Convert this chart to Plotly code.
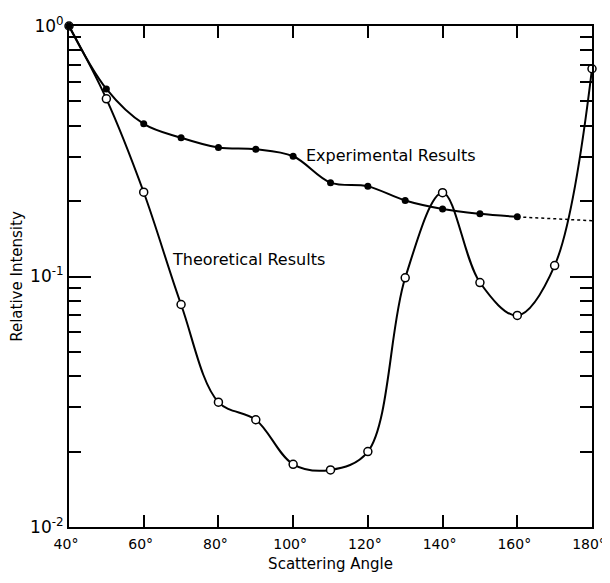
import plotly.graph_objects as go
import math

# Data
angles_exp = [40, 50, 60, 70, 80, 90, 100, 110, 120, 130, 140, 150, 160]
exp_values = [1.0, 0.561, 0.407, 0.358, 0.327, 0.322, 0.302, 0.237, 0.229, 0.201, 0.186, 0.178, 0.173]
exp_extrap_angles = [160, 180]
exp_extrap_values = [0.173, 0.167]

angles_theo = [40, 50, 60, 70, 80, 90, 100, 110, 120, 130, 140, 150, 160, 170, 180]
theo_values = [1.0, 0.512, 0.217, 0.0773, 0.0315, 0.0268, 0.0178, 0.0169, 0.0200,
               0.0988, 0.216, 0.0946, 0.0699, 0.1106, 0.675]

x_tickvals = [40, 60, 80, 100, 120, 140, 160, 180]
x_ticktext = ["40°", "60°", "80°", "100°", "120°", "140°", "160°", "180°"]
y_major = [0.01, 0.1, 1.0]
y_major_text = ["10<sup>-2</sup>", "10<sup>-1</sup>", "10<sup>0</sup>"]
y_minor = [m * d for d in (0.01, 0.1) for m in range(2, 10)]

FONT = "DejaVu Sans"

fig = go.Figure()

fig.add_trace(go.Scatter(
    x=angles_theo, y=theo_values, mode="lines+markers",
    line=dict(color="black", width=2, shape="spline", smoothing=1.0),
    marker=dict(symbol="circle", size=8, color="white",
                line=dict(color="black", width=1.5)),
    cliponaxis=False, showlegend=False))

fig.add_trace(go.Scatter(
    x=exp_extrap_angles, y=exp_extrap_values, mode="lines",
    line=dict(color="black", width=1.5, dash="dot"),
    showlegend=False))

fig.add_trace(go.Scatter(
    x=angles_exp, y=exp_values, mode="lines+markers",
    line=dict(color="black", width=2, shape="spline", smoothing=1.0),
    marker=dict(symbol="circle", size=7, color="black"),
    cliponaxis=False, showlegend=False))

fig.add_annotation(x=103.0, y=math.log10(0.304), xref="x", yref="y",
                   text="Experimental Results", showarrow=False,
                   xanchor="left", yanchor="middle",
                   font=dict(family=FONT, size=16, color="black"))
fig.add_annotation(x=67.0, y=math.log10(0.117), xref="x", yref="y",
                   text="Theoretical Results", showarrow=False,
                   xanchor="left", yanchor="middle",
                   font=dict(family=FONT, size=16, color="black"))

# page body has an 8px default margin, so size the figure to fit the window
fig.update_layout(
    width=602, height=567,
    margin=dict(l=61, r=18, t=18, b=48),
    paper_bgcolor="white", plot_bgcolor="white",
    font=dict(family=FONT, size=15, color="black"),
    xaxis=dict(
        range=[40, 180], tickmode="array", tickvals=x_tickvals,
        ticktext=x_ticktext, ticks="inside", ticklen=12, tickwidth=1.5,
        tickcolor="black", mirror="ticks", showline=True, linecolor="black",
        linewidth=2, showgrid=False, zeroline=False, automargin=False,
        ticklabeloverflow="allow", ticklabelstandoff=3, ticklabelshift=-3,
        title=dict(text="Scattering Angle", standoff=8,
                   font=dict(family=FONT, size=15)),
        tickfont=dict(family=FONT, size=14)),
    yaxis=dict(
        type="log", range=[-2, 0], tickmode="array", tickvals=y_major,
        ticktext=y_major_text, ticks="inside", ticklen=22, tickwidth=1.5,
        tickcolor="black", mirror="ticks", showline=True, linecolor="black",
        linewidth=2, showgrid=False, zeroline=False, automargin=False,
        ticklabeloverflow="allow",
        minor=dict(tickmode="array", tickvals=y_minor, ticks="inside",
                   ticklen=12, tickwidth=1.5, tickcolor="black", showgrid=False),
        title=dict(text="Relative Intensity", standoff=4,
                   font=dict(family=FONT, size=15)),
        tickfont=dict(family=FONT, size=17)),
)

fig.write_html("out.html")
